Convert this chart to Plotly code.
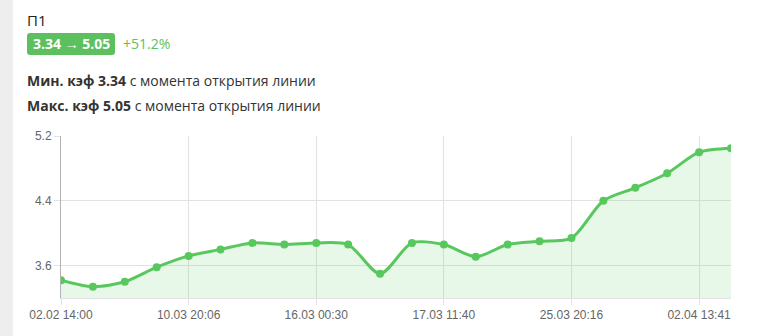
import plotly.graph_objects as go

# ---- data ----
odds = [3.42, 3.34, 3.40, 3.58, 3.72, 3.80, 3.88, 3.86, 3.88, 3.86, 3.50,
        3.88, 3.86, 3.71, 3.86, 3.90, 3.94, 4.40, 4.56, 4.74, 5.00, 5.05]
idx = list(range(len(odds)))
tick_pos = [0, 4, 8, 12, 16, 20]
tick_labels = ["02.02 14:00", "10.03 20:06", "16.03 00:30",
               "17.03 11:40", "25.03 20:16", "02.04 13:41"]
y_ticks = [3.6, 4.4, 5.2]

title = "П1"
badge_text = "3.34 → 5.05"
change_text = "+51.2%"
min_line = ("Мин. кэф 3.34", " с момента открытия линии")
max_line = ("Макс. кэф 5.05", " с момента открытия линии")

W, H = 757, 336
L, R, T, B = 61, 26, 136, 38
PW, PH = W - L - R, H - T - B

def px(x):
    return (x - L) / PW

def py(y):
    return (H - B - y) / PH

GREEN = "#5cc05f"
LINE = "rgb(88,200,94)"
FONT = "Open Sans"

fig = go.Figure()
fig.add_trace(go.Scatter(
    x=idx, y=odds, mode="lines+markers",
    line=dict(color=LINE, width=3, shape="spline", smoothing=0.8),
    marker=dict(size=8, color=LINE),
    fill="tozeroy", fillcolor="rgba(88,200,94,0.14)",
    hoverinfo="skip", showlegend=False,
))

# rounded badge path
x0, x1, y0, y1, r = 27, 115, 33, 55, 3
def P(x, y):
    return f"{px(x)},{py(y)}"
path = (f"M {P(x0+r,y0)} L {P(x1-r,y0)} Q {P(x1,y0)} {P(x1,y0+r)} "
        f"L {P(x1,y1-r)} Q {P(x1,y1)} {P(x1-r,y1)} L {P(x0+r,y1)} "
        f"Q {P(x0,y1)} {P(x0,y1-r)} L {P(x0,y0+r)} Q {P(x0,y0)} {P(x0+r,y0)} Z")

shapes = [
    dict(type="rect", xref="paper", yref="paper", x0=px(0), x1=px(13),
         y0=py(H), y1=py(0), fillcolor="#eeeeee", line=dict(width=0), layer="below"),
    dict(type="path", xref="paper", yref="paper", path=path,
         fillcolor=GREEN, line=dict(width=0)),
]

def ann(text, x, y, size, color, bold=False, anchor="left"):
    return dict(text=(f"<b>{text}</b>" if bold else text), xref="paper", yref="paper",
                x=px(x), y=py(y), xanchor=anchor, yanchor="middle", showarrow=False,
                font=dict(family=FONT, size=size, color=color))

annotations = [
    ann(title, 25, 20, 15, "#222222"),
    ann(badge_text, 71, 44, 14, "#ffffff", bold=True, anchor="center"),
    ann(change_text, 121, 44, 14, GREEN),
    dict(text=f"<b>{min_line[0]}</b>{min_line[1]}", xref="paper", yref="paper",
         x=px(25), y=py(80), xanchor="left", yanchor="middle", showarrow=False,
         font=dict(family=FONT, size=14, color="#333333")),
    dict(text=f"<b>{max_line[0]}</b>{max_line[1]}", xref="paper", yref="paper",
         x=px(25), y=py(105), xanchor="left", yanchor="middle", showarrow=False,
         font=dict(family=FONT, size=14, color="#333333")),
]

fig.update_layout(
    width=W, height=H, margin=dict(l=L, r=R, t=T, b=B),
    paper_bgcolor="white", plot_bgcolor="white",
    shapes=shapes, annotations=annotations,
    font=dict(family="Liberation Sans, Arial", size=12, color="#666666"),
    xaxis=dict(range=[0, len(odds) - 1], tickvals=tick_pos, ticktext=tick_labels,
               showgrid=True, gridcolor="#e2e2e2", gridwidth=1,
               ticks="outside", ticklen=6, tickcolor="#e2e2e2",
               showline=True, linecolor="#e2e2e2", linewidth=1,
               zeroline=False, fixedrange=True),
    yaxis=dict(range=[3.2, 5.2], tickvals=y_ticks, ticktext=[str(v) for v in y_ticks],
               showgrid=True, gridcolor="#e2e2e2", gridwidth=1,
               ticks="outside", ticklen=6, tickcolor="#e2e2e2",
               showline=True, linecolor="#b3b3b3", linewidth=1,
               zeroline=False, fixedrange=True),
)

fig.write_html("out.html")
